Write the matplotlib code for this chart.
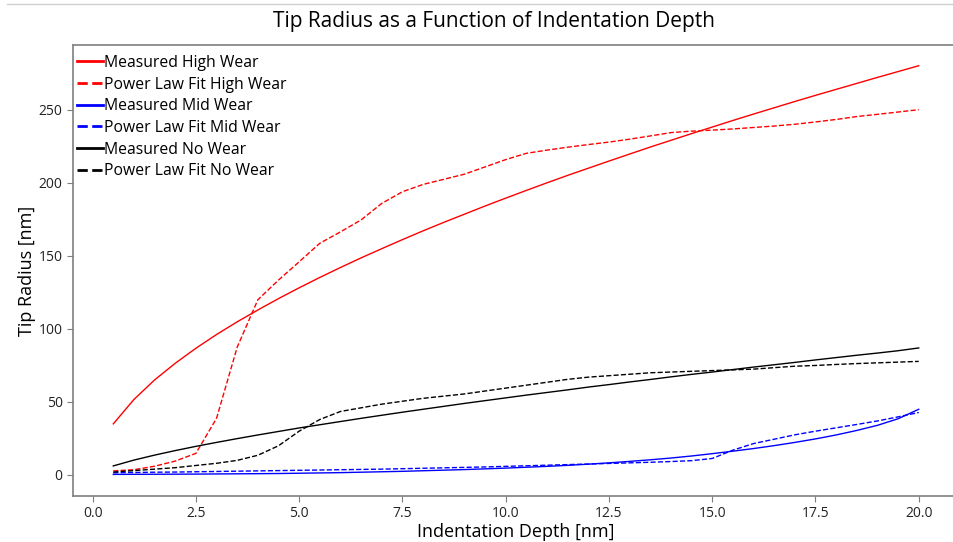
import matplotlib
matplotlib.use("Agg")
import matplotlib.pyplot as plt
from matplotlib.lines import Line2D

plt.rcParams['font.family'] = ['Open Sans', 'DejaVu Sans']

# indentation depth [nm]
depth = [0.5, 1.0, 1.5, 2.0, 2.5, 3.0, 3.5, 4.0, 4.5, 5.0,
         5.5, 6.0, 6.5, 7.0, 7.5, 8.0, 8.5, 9.0, 9.5, 10.0,
         10.5, 11.0, 11.5, 12.0, 12.5, 13.0, 13.5, 14.0, 14.5, 15.0,
         15.5, 16.0, 16.5, 17.0, 17.5, 18.0, 18.5, 19.0, 19.5, 20.0]

# tip radius [nm]
high_meas = [35.0, 51.7, 65.1, 76.5, 86.8, 96.2, 104.9, 113.0, 120.8, 128.2,
             135.3, 142.1, 148.7, 155.0, 161.2, 167.2, 173.0, 178.6, 184.2, 189.6,
             194.9, 200.1, 205.2, 210.1, 215.0, 219.8, 224.6, 229.2, 233.8, 238.3,
             242.8, 247.2, 251.5, 255.8, 260.0, 264.1, 268.2, 272.3, 276.3, 280.3]
high_fit = [2.8, 3.6, 6.0, 9.5, 14.8, 38.8, 87.5, 120.0, 133.5, 146.0,
            158.7, 166.5, 174.7, 186.0, 194.0, 199.0, 202.5, 206.0, 211.0, 216.0,
            220.3, 222.5, 224.5, 226.3, 228.0, 230.0, 232.2, 234.5, 235.5, 236.2,
            237.0, 238.0, 239.0, 240.2, 241.8, 243.5, 245.5, 247.0, 248.6, 250.2]
mid_meas = [0.4, 0.45, 0.5, 0.55, 0.6, 0.7, 0.8, 0.9, 1.0, 1.2,
            1.4, 1.6, 1.9, 2.2, 2.5, 2.9, 3.3, 3.7, 4.2, 4.7,
            5.3, 5.9, 6.6, 7.4, 8.3, 9.3, 10.4, 11.6, 13.0, 14.6,
            16.3, 18.1, 20.1, 22.3, 24.7, 27.4, 30.5, 34.0, 38.5, 45.0]
mid_fit = [1.5, 1.7, 1.9, 2.0, 2.2, 2.4, 2.6, 2.8, 3.0, 3.2,
           3.4, 3.6, 3.8, 4.0, 4.3, 4.6, 4.9, 5.2, 5.5, 5.9,
           6.3, 6.7, 7.1, 7.5, 7.9, 8.3, 8.7, 9.2, 9.8, 11.3,
           17.0, 21.5, 24.5, 27.5, 30.0, 32.3, 34.6, 37.0, 39.8, 42.8]
no_meas = [6.2, 10.2, 13.6, 16.7, 19.6, 22.3, 24.9, 27.4, 29.8, 32.2,
           34.4, 36.6, 38.8, 40.9, 43.0, 45.0, 47.0, 49.0, 50.9, 52.8,
           54.7, 56.5, 58.3, 60.2, 61.9, 63.7, 65.4, 67.2, 68.9, 70.5,
           72.2, 73.9, 75.5, 77.1, 78.8, 80.4, 82.0, 83.5, 85.1, 87.0]
no_fit = [2.0, 3.0, 4.0, 5.0, 6.5, 8.0, 10.0, 13.5, 20.0, 30.0,
          38.0, 43.5, 46.0, 48.5, 50.5, 52.5, 54.0, 55.5, 57.5, 59.5,
          61.5, 63.5, 65.5, 67.0, 68.0, 69.0, 70.0, 70.5, 71.0, 71.5,
          72.0, 72.5, 73.5, 74.5, 75.0, 75.7, 76.3, 76.8, 77.3, 77.8]

fig = plt.figure(figsize=(9.54, 5.42), dpi=100)
ax = fig.add_axes([73 / 954, 1 - 496 / 542, 886 / 954, 451 / 542])

ax.plot(depth, high_meas, color='red', lw=1, label='Measured High Wear')
ax.plot(depth, high_fit, color='red', lw=1, ls='--', label='Power Law Fit High Wear')
ax.plot(depth, mid_meas, color='blue', lw=1, label='Measured Mid Wear')
ax.plot(depth, mid_fit, color='blue', lw=1, ls='--', label='Power Law Fit Mid Wear')
ax.plot(depth, no_meas, color='black', lw=1, label='Measured No Wear')
ax.plot(depth, no_fit, color='black', lw=1, ls='--', label='Power Law Fit No Wear')

ax.set_xlim(-0.475, 20.975)
ax.set_ylim(-14.4, 294.5)
ax.set_xticks([0.0, 2.5, 5.0, 7.5, 10.0, 12.5, 15.0, 17.5, 20.0])
ax.set_yticks([0, 50, 100, 150, 200, 250])

for s in ax.spines.values():
    s.set_color('#7f7f7f')
    s.set_linewidth(1.2)
ax.tick_params(colors='#7f7f7f', labelcolor='#222222', labelsize=10, length=4)

fig.text(494 / 954, 1 - 21 / 542, 'Tip Radius as a Function of Indentation Depth',
         fontsize=15, ha='center', va='center')
ax.set_xlabel('Indentation Depth [nm]', fontsize=13, labelpad=1)
ax.set_ylabel('Tip Radius [nm]', fontsize=13, labelpad=2)

leg = ax.legend(loc='upper left', bbox_to_anchor=(0.0, 0.9867), frameon=False,
                fontsize=11.3, borderaxespad=0.1, borderpad=0.15, handlelength=1.65,
                handletextpad=0.1, labelspacing=0.36)
for h in leg.legend_handles:
    h.set_linewidth(2)

# thin grey border line at the top of the picture
fig.add_artist(Line2D([0.007, 1.0], [1 - 3.5 / 542, 1 - 3.5 / 542],
                      transform=fig.transFigure, color='#d0d0d0', lw=1))

fig.savefig('out.png', dpi=100)
